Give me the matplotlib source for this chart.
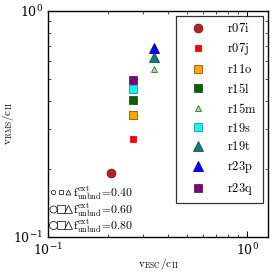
import matplotlib
matplotlib.use("Agg")
import matplotlib.pyplot as plt
from matplotlib.lines import Line2D
from matplotlib.legend_handler import HandlerTuple
from matplotlib.ticker import NullFormatter

plt.rcParams["mathtext.fontset"] = "cm"
plt.rcParams["font.family"] = "serif"
plt.rcParams["font.serif"] = ["DejaVu Serif"]

runs = ["r07i", "r07j", "r11o", "r15l", "r15m", "r19s", "r19t", "r23p", "r23q"]
v_esc = [0.207, 0.267, 0.267, 0.267, 0.341, 0.267, 0.341, 0.341, 0.267]
v_rms = [0.192, 0.271, 0.347, 0.404, 0.554, 0.452, 0.626, 0.686, 0.495]
f_unbnd = [0.60, 0.40, 0.60, 0.60, 0.40, 0.60, 0.80, 0.80, 0.60]
markers = ["o", "s", "s", "s", "^", "s", "^", "^", "s"]
colors = ["#b22222", "#ff0000", "#ffa500", "#006400", "#90ee90",
          "#00ffff", "#008080", "#0000ff", "#800080"]
edges = ["#7a1515", "#ff0000", "#8b5a00", "#2a4a2a", "#3a6a3a",
         "#3a8a8a", "#2a4a4a", "#00008b", "#4a2a4a"]

f_levels = [0.40, 0.60, 0.80]


def msize(f, m):
    base = {0.40: 4.3, 0.60: 6.3, 0.80: 7.0}[f]
    if m == "^":
        base += 0.4
    return base


fig = plt.figure(figsize=(2.74, 2.74), dpi=100)
ax = fig.add_axes([0.175, 0.135, 0.803, 0.825])

handles = []
for i, run in enumerate(runs):
    (h,) = ax.plot(v_esc[i], v_rms[i], linestyle="none", marker=markers[i],
                   markersize=msize(f_unbnd[i], markers[i]),
                   markerfacecolor=colors[i], markeredgecolor=edges[i],
                   markeredgewidth=0.6, label=r"$\mathrm{%s}$" % run)
    handles.append(h)

ax.set_xscale("log")
ax.set_yscale("log")
ax.set_xlim(0.1, 1.27)
ax.set_ylim(0.1, 1.0)
ax.xaxis.set_minor_formatter(NullFormatter())
ax.yaxis.set_minor_formatter(NullFormatter())
ax.set_xlabel(r"$\mathrm{v_{ESC}/c_{II}}$", fontsize=8, labelpad=-1)
ax.set_ylabel(r"$\mathrm{v_{RMS}/c_{II}}$", fontsize=8, labelpad=-2)
ax.tick_params(which="both", direction="in", top=True, right=True, labelsize=9)
ax.tick_params(which="major", length=4, width=0.7)
ax.tick_params(which="minor", length=2, width=0.5)
for s in ax.spines.values():
    s.set_linewidth(1.0)

leg = ax.legend(handles=handles, loc="upper right", fontsize=9, numpoints=1,
                frameon=True, fancybox=False, edgecolor="black",
                borderpad=0.5, labelspacing=0.47, handletextpad=1.0,
                handlelength=2.6, borderaxespad=0.4)
leg.get_frame().set_linewidth(0.9)
ax.add_artist(leg)

size_handles = []
size_labels = []
for f in f_levels:
    group = tuple(Line2D([], [], linestyle="none", marker=m, markersize=msize(f, m) - 1.2,
                         markerfacecolor="white", markeredgecolor="black",
                         markeredgewidth=0.5) for m in ["o", "s", "^"])
    size_handles.append(group)
    size_labels.append(r"$\mathrm{f^{ext}_{unbnd}\!=\!%.2f}$" % f)

ax.legend(size_handles, size_labels, loc="lower left", fontsize=8.5,
          handler_map={tuple: HandlerTuple(ndivide=None, pad=0.0)},
          frameon=False, handlelength=1.9, handletextpad=0.1,
          labelspacing=-0.1, borderaxespad=0.05, borderpad=0.1)

fig.savefig("out.png", dpi=100)
